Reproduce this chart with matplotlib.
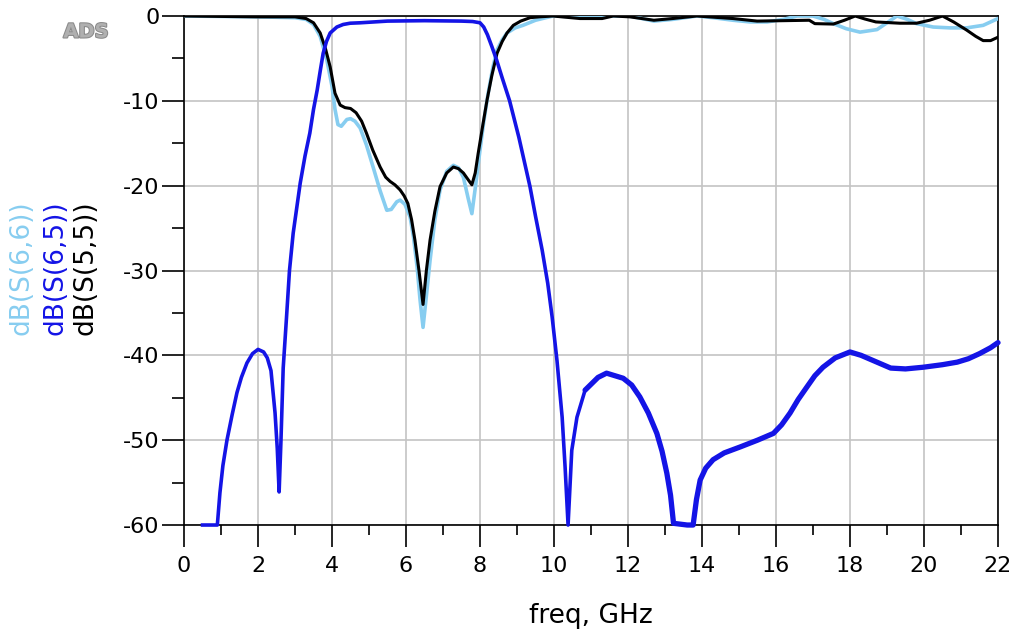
import matplotlib
matplotlib.use("Agg")
import matplotlib.pyplot as plt
import matplotlib.patheffects as pe
from matplotlib.ticker import MultipleLocator

# dB(S(6,5)) - blue, transmission
f65 = [0.5, 0.9, 0.97, 1.05, 1.16, 1.3, 1.43, 1.55, 1.70, 1.85, 2.0, 2.15, 2.25,
       2.35, 2.46, 2.52, 2.57, 2.62, 2.68, 2.77, 2.85, 2.95, 3.14, 3.27, 3.4, 3.5,
       3.6, 3.68, 3.76, 3.85, 3.95, 4.13, 4.3, 4.49, 4.76, 5.5, 6.5, 7.5, 7.8, 8.0,
       8.1, 8.2, 8.32, 8.45, 8.6, 8.8, 9.05, 9.35, 9.5, 9.68, 9.83, 9.95, 10.08,
       10.22, 10.3, 10.38, 10.48, 10.62, 10.84, 11.19, 11.42, 11.87, 12.1, 12.32,
       12.55, 12.78, 12.92, 13.05, 13.15, 13.23, 13.6, 13.76, 13.85, 13.95, 14.1,
       14.3, 14.6, 15.03, 15.5, 15.93, 16.15, 16.38, 16.6, 16.84, 17.05, 17.27,
       17.6, 18.0, 18.3, 18.62, 19.1, 19.5, 19.98, 20.5, 20.9, 21.2, 21.5, 21.8,
       22.0]
s65 = [-60, -60, -56.2, -53, -50, -47, -44.4, -42.6, -40.9, -39.8, -39.3, -39.6,
       -40.3, -41.8, -46.8, -51, -56.1, -50, -41.5, -35.5, -30, -25.6, -19.7, -16.5,
       -13.8, -11, -8.7, -6.5, -4.4, -3.0, -2.0, -1.3, -1.0, -0.85, -0.8, -0.6,
       -0.55, -0.6, -0.65, -0.8, -1.3, -2.2, -3.6, -5.2, -7.3, -10.0, -14.3, -20.1,
       -23.6, -27.6, -31.5, -35.5, -40.6, -47.3, -53.2, -60, -51.2, -47.3, -44.1,
       -42.6, -42.1, -42.7, -43.5, -44.9, -46.8, -49.2, -51.3, -53.9, -56.5, -59.8,
       -60, -60, -57, -54.7, -53.3, -52.3, -51.5, -50.8, -50.0, -49.2, -48.2, -46.8,
       -45.2, -43.7, -42.4, -41.4, -40.3, -39.6, -40.0, -40.6, -41.5, -41.6, -41.4,
       -41.1, -40.8, -40.4, -39.8, -39.1, -38.5]

# dB(S(5,5)) - black
f55 = [0.0, 1.0, 2.0, 3.0, 3.3, 3.5, 3.68, 3.82, 3.95, 4.08, 4.22, 4.35, 4.5,
       4.65, 4.8, 4.93, 5.1, 5.3, 5.45, 5.57, 5.7, 5.84, 5.95, 6.05, 6.15, 6.24,
       6.35, 6.46, 6.55, 6.65, 6.78, 6.92, 7.1, 7.28, 7.42, 7.55, 7.68, 7.78, 7.87,
       7.95, 8.07, 8.19, 8.32, 8.46, 8.6, 8.73, 8.9, 9.1, 9.35, 9.6, 9.97, 10.7,
       11.3, 11.6, 12.05, 12.7, 13.2, 13.86, 14.84, 15.49, 16.2, 16.9, 17.05, 17.55,
       17.85, 18.14, 18.4, 18.7, 19.35, 19.8, 20.15, 20.5, 20.8, 21.15, 21.4, 21.6,
       21.8, 22.0]
s55 = [0.0, -0.05, -0.1, -0.1, -0.3, -0.8, -2.0, -3.8, -6.0, -9.1, -10.5, -10.8,
       -10.9, -11.4, -12.4, -13.8, -15.8, -17.8, -19.0, -19.5, -19.9, -20.5, -21.2,
       -22.1, -24.0, -26.4, -30.0, -34.0, -30.0, -26.4, -23.0, -20.1, -18.5, -17.8,
       -18.0, -18.5, -19.3, -19.9, -18.5, -16.2, -13.0, -9.9, -7.0, -4.4, -3.0,
       -2.0, -1.1, -0.6, -0.2, -0.1, 0.0, -0.3, -0.3, 0.0, -0.1, -0.5, -0.3, 0.0,
       -0.3, -0.6, -0.55, -0.5, -0.9, -0.95, -0.5, 0.0, -0.35, -0.7, -0.85, -0.85,
       -0.5, 0.0, -0.7, -1.65, -2.4, -2.9, -2.9, -2.5]

# dB(S(6,6)) - light blue
f66 = [0.0, 1.0, 2.0, 3.0, 3.3, 3.5, 3.68, 3.86, 4.0, 4.08, 4.16, 4.25, 4.4, 4.5,
       4.62, 4.76, 4.93, 5.11, 5.3, 5.48, 5.6, 5.75, 5.84, 5.97, 6.11, 6.2, 6.3,
       6.38, 6.46, 6.55, 6.65, 6.78, 6.92, 7.1, 7.28, 7.42, 7.55, 7.68, 7.78, 7.88,
       8.0, 8.1, 8.22, 8.35, 8.46, 8.6, 8.73, 8.95, 9.16, 9.5, 9.97, 10.7, 11.6,
       12.05, 12.7, 13.2, 13.86, 14.3, 14.84, 15.3, 15.76, 16.2, 16.57, 17.0, 17.3,
       17.55, 17.9, 18.27, 18.73, 19.0, 19.27, 19.55, 19.8, 20.25, 20.7, 21.15,
       21.6, 22.0]
s66 = [0.0, -0.05, -0.1, -0.2, -0.4, -1.0, -2.4, -5.2, -8.3, -11.0, -12.8, -13.0,
       -12.2, -12.1, -12.4, -13.2, -15.2, -17.8, -20.6, -22.9, -22.8, -21.9, -21.7,
       -22.2, -23.7, -26.0, -29.6, -33.5, -36.7, -33.0, -28.8, -24.0, -20.5, -18.3,
       -17.6, -17.9, -19.0, -21.5, -23.3, -20.0, -15.8, -12.5, -9.1, -6.0, -4.0,
       -2.8, -2.0, -1.4, -1.1, -0.5, 0.0, -0.1, 0.0, 0.0, -0.6, -0.4, 0.0, -0.2,
       -0.5, -0.7, -0.7, -0.4, 0.0, 0.0, -0.4, -0.9, -1.5, -1.9, -1.6, -0.8, 0.0,
       -0.4, -0.9, -1.3, -1.4, -1.4, -1.1, -0.3]

x_ticks = list(range(0, 23, 2))
y_ticks = list(range(-60, 1, 10))

plt.rcParams["font.family"] = ["DejaVu Sans"]
plt.rcParams["axes.unicode_minus"] = False

fig = plt.figure(figsize=(10.14, 6.35), dpi=100)
ax = fig.add_axes([0.1815, 0.1732, 0.8027, 0.8016])

ax.plot(f66, s66, color="#87cdf0", linewidth=2.6, solid_joinstyle="round", zorder=3)
ax.plot(f55, s55, color="black", linewidth=2.2, solid_joinstyle="round", zorder=4)
ax.plot(f65, s65, color="#1414e6", linewidth=2.6, solid_joinstyle="round", zorder=5,
        clip_on=False)
# the measured part above ~11 GHz is noisy, so it reads as a thicker trace
hf = [i for i, f in enumerate(f65) if f >= 10.8]
ax.plot([f65[i] for i in hf], [s65[i] for i in hf], color="#1414e6",
        linewidth=3.8, solid_joinstyle="round", solid_capstyle="round",
        zorder=5, clip_on=False)

ax.set_xlim(0, 22)
ax.set_ylim(-60, 0)
ax.set_xticks(x_ticks)
ax.set_yticks(y_ticks)
ax.xaxis.set_minor_locator(MultipleLocator(1))
ax.yaxis.set_minor_locator(MultipleLocator(5))

ax.grid(True, which="major", color="#c4c4c4", linewidth=1.2)
ax.set_axisbelow(True)

for sp in ax.spines.values():
    sp.set_linewidth(1.2)
    sp.set_color("black")

ax.tick_params(axis="x", which="major", direction="out", length=15.5, width=1.2,
               labelsize=16, pad=7)
ax.tick_params(axis="x", which="minor", direction="out", length=7, width=1.2)
ax.tick_params(axis="y", which="major", direction="out", length=15.5, width=1.2,
               labelsize=16, pad=2)
ax.tick_params(axis="y", which="minor", direction="out", length=8.5, width=1.2)

ax.set_xlabel("freq, GHz", fontsize=19, labelpad=19)

# stacked, coloured y labels
fig.text(22 / 1014, 0.578, "dB(S(6,6))", rotation=90, color="#87cdf0",
         fontsize=19, ha="center", va="center")
fig.text(55 / 1014, 0.578, "dB(S(6,5))", rotation=90, color="#1414e6",
         fontsize=19, ha="center", va="center")
fig.text(86 / 1014, 0.578, "dB(S(5,5))", rotation=90, color="black",
         fontsize=19, ha="center", va="center")

fig.text(86 / 1014, 1 - 32 / 635, "ADS", color="#b0b0b0", fontsize=14,
         fontweight="bold", ha="center", va="center",
         path_effects=[pe.withStroke(linewidth=1.5, foreground="#8a8a8a")])

fig.savefig("out.png", dpi=100)
